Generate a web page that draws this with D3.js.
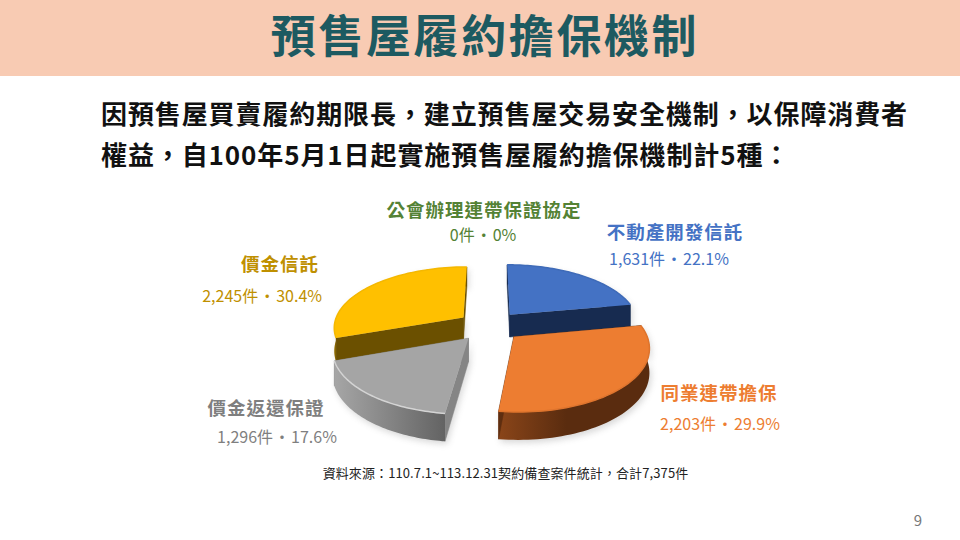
<!DOCTYPE html>
<html><head><meta charset="utf-8">
<script src="https://cdn.jsdelivr.net/npm/d3@7"></script>
<style>html,body{margin:0;background:#fff}svg{display:block}text{font-family:"Noto Sans CJK TC","Noto Sans",sans-serif}</style>
</head><body><svg id="c" width="960" height="540"></svg>
<script>
const titleText = "預售屋履約擔保機制";
const bodyLines = ["因預售屋買賣履約期限長\uFF0C建立預售屋交易安全機制\uFF0C以保障消費者","權益\uFF0C自100年5月1日起實施預售屋履約擔保機制計5種\uFF1A"];
const categories = ["不動產開發信託","同業連帶擔保","價金返還保證","價金信託","公會辦理連帶保證協定"];
const counts = [1631,2203,1296,2245,0];
const percents = ["22.1%","29.9%","17.6%","30.4%","0%"];
const sourceText = "資料來源\uFF1A110.7.1~113.12.31契約備查案件統計\uFF0C合計7,375件";
const pageNo = "9";

const topColors = ["#4472c4","#ed7d31","#a5a5a5","#ffc000","#70ad47"];
const wallColors = ["#172b50","#5e2e10","#858585","#6b5000","#2f4a1e"];
const sideLight = ["#26447a","#8a4519","#a6a6a6","#8f6b00","#70ad47"];
const sideDark = ["#172b50","#5a2c0f","#636363","#6b5000","#2f4a1e"];
const rimColors = ["#3f6bb8","#de742d","#d4d4d4","#f5b800","#70ad47"];
const textColors = ["#4472c4","#ed7d31","#7f7f7f","#bf9000","#548235"];
const labelPlace = [
 {x:675,y:239,vx:669,vy:265,a:"middle"},
 {x:719,y:400,vx:720,vy:430,a:"middle"},
 {x:266,y:415,vx:277,vy:443,a:"middle"},
 {x:319,y:271,vx:322,vy:302,a:"end"},
 {x:484,y:217,vx:483,vy:241,a:"middle"}
];

const svg = d3.select("#c");
const defs = svg.append("defs");
const blur = defs.append("filter").attr("id","sh").attr("x","-20%").attr("y","-20%").attr("width","140%").attr("height","140%");
blur.append("feGaussianBlur").attr("stdDeviation",3);

svg.append("rect").attr("width",960).attr("height",76).attr("fill","#f8cbb3");
svg.append("text").attr("x",485).attr("y",53).attr("text-anchor","middle")
  .attr("font-size",45).attr("font-weight",700).attr("letter-spacing",2.6).attr("fill","#1d5a61").text(titleText);
svg.selectAll("text.b").data(bodyLines).join("text").attr("class","b")
  .attr("x",101).attr("y",(d,i)=>124+i*41).attr("font-size",26).attr("font-weight",700)
  .attr("letter-spacing",0.9).attr("fill","#111").text(d=>d);

const pie = d3.pie().sort(null).value(d=>d).startAngle(0).endAngle(2*Math.PI);
const arcs = pie(counts);
const cx=489.5, cy=326, R=130, Rv=60.5, k=0.15, depth=23, explode=0.25;
const px = d3.scaleLinear().domain([0,1]).range([cx,cx+R]);
const py = d3.scaleLinear().domain([0,1]).range([cy,cy+Rv]);
function project(u,v){const s=1/(1-k*v);return {x:px(u*s),y:py(v*s),s};}
function pt(a,mid,r){
  const u=explode*Math.sin(mid)+r*Math.sin(a), v=-explode*Math.cos(mid)-r*Math.cos(a);
  return project(u,v);
}
const line=d3.line().x(p=>p.x).y(p=>p.y);
const down=p=>({x:p.x,y:p.y+depth*p.s});
function arcPts(d,mid){return d3.range(0,61).map(i=>pt(d.startAngle+(d.endAngle-d.startAngle)*i/60,mid,1));}

const order=[0,3,2,1];
const shadowG=svg.append("g").attr("filter","url(#sh)").attr("opacity",.28);
const g=svg.append("g");
order.forEach(i=>{
  const d=arcs[i], mid=(d.startAngle+d.endAngle)/2;
  const rim=arcPts(d,mid), apex=pt(0,mid,0);
  const top=[apex,...rim];
  const hull=[...top,...[...rim].reverse().map(down),down(apex)];
  shadowG.append("path").attr("d",line(hull.map(p=>({x:p.x+2,y:p.y+3})))+"Z").attr("fill","#777");
  const gid="side"+i;
  const lg=defs.append("linearGradient").attr("id",gid).attr("gradientUnits","userSpaceOnUse")
    .attr("x1",d3.min(rim,p=>p.x)).attr("x2",d3.max(rim,p=>p.x)).attr("y1",0).attr("y2",0);
  const flip = i===1;
  lg.append("stop").attr("offset",0).attr("stop-color",sideLight[i]);
  lg.append("stop").attr("offset",flip?.45:1).attr("stop-color",sideDark[i]);
  const wallStart=[apex,rim[0],down(rim[0]),down(apex)];
  const wallEnd=[apex,rim[60],down(rim[60]),down(apex)];
  const walls=[wallStart,wallEnd].map(w=>({w,y:d3.mean(w,p=>p.y)}));
  const outer={outer:true,w:[...rim,...[...rim].reverse().map(down)],y:d3.mean(rim,p=>p.y)};
  [...walls,outer].sort((a,b)=>a.y-b.y).forEach(o=>{
    g.append("path").attr("d",line(o.w)+"Z")
     .attr("fill",o.outer?`url(#${gid})`:wallColors[i])
     .attr("stroke",o.outer?"none":wallColors[i]).attr("stroke-width",.5);
  });
  g.append("path").attr("d",line(top)+"Z").attr("fill",topColors[i]);
  g.append("path").attr("d",line(rim)).attr("fill","none").attr("stroke",rimColors[i]).attr("stroke-width",1.5);
});

const fmt=d3.format(",");
labelPlace.forEach((p,i)=>{
  svg.append("text").attr("x",p.x).attr("y",p.y).attr("text-anchor",p.a).attr("font-size",18.5).attr("font-weight",700)
    .attr("letter-spacing",1).attr("fill",textColors[i]).text(categories[i]);
  svg.append("text").attr("x",p.vx).attr("y",p.vy).attr("text-anchor",p.a==="end"?"end":"middle").attr("font-size",16)
    .attr("fill",textColors[i]).text(fmt(counts[i])+"件\u200A·\u200A"+percents[i]);
});
svg.append("text").attr("x",505.5).attr("y",478).attr("text-anchor","middle").attr("font-size",13).attr("letter-spacing",.1).attr("fill","#222").text(sourceText);
svg.append("text").attr("x",918).attr("y",526).attr("text-anchor","middle").attr("font-size",15).attr("fill","#777").text(pageNo);
</script></body></html>
